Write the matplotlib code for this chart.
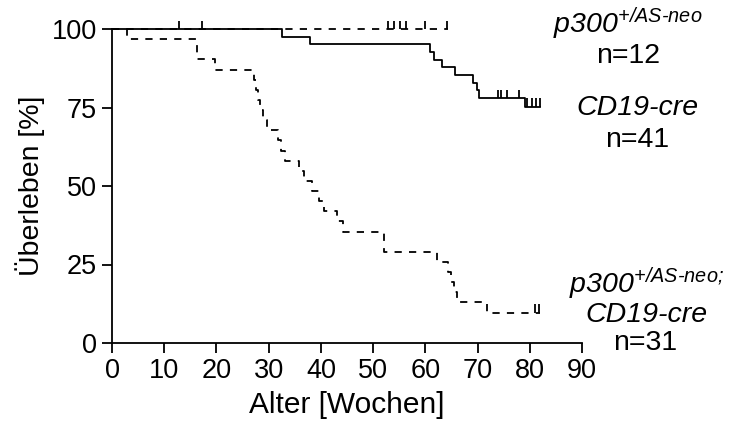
import matplotlib
matplotlib.use("Agg")
import matplotlib.pyplot as plt

plt.rcParams['font.family'] = ['Liberation Sans', 'DejaVu Sans']
plt.rcParams['mathtext.fontset'] = 'custom'
plt.rcParams['mathtext.rm'] = 'Liberation Sans:italic'
plt.rcParams['mathtext.it'] = 'Liberation Sans:italic'

# p300+/AS-neo, n=12 (no deaths)
wt_times = [0, 64.4]
wt_surv = [100, 100]
wt_cens = [52.9, 54.0, 55.2, 56.3, 60.0, 64.1]

# CD19-cre, n=41
cre_times = [0, 32.5, 37.9, 60.9, 61.7, 63.2, 65.7, 69.2, 69.8, 70.3, 79.1, 82.0]
cre_surv = [100, 97.6, 95.1, 92.7, 90.2, 87.8, 85.4, 82.9, 80.5, 78.0, 75.3, 75.3]
cre_cens_t = [12.9, 17.3, 74.0, 74.4, 75.7, 77.9, 79.4, 80.4, 81.2, 82.0]
cre_cens_s = [100, 100, 78.0, 78.0, 78.0, 78.0, 75.3, 75.3, 75.3, 75.3]

# p300+/AS-neo;CD19-cre, n=31
dko_times = [0, 2.8, 16.2, 19.7, 27.2, 27.6, 28.0, 28.4, 29.0, 29.6, 31.8, 32.4,
             33.2, 35.8, 36.8, 38.3, 39.6, 40.6, 43.0, 44.2, 52.0, 62.3, 64.4,
             65.0, 65.5, 66.0, 71.9, 82.0]
dko_surv = [100, 96.8, 90.3, 87.1, 83.9, 80.6, 77.4, 74.2, 71.0, 67.7, 64.5, 61.3,
            58.1, 54.8, 51.6, 48.4, 45.2, 41.9, 38.7, 35.5, 29.0, 25.8, 22.6,
            19.4, 16.1, 12.9, 9.7, 9.7]
dko_cens = [81.0, 81.7]

W, H = 732, 425
fig = plt.figure(figsize=(W / 100, H / 100), dpi=100)
ax = fig.add_axes([112 / W, 1 - 343 / H, 470 / W, 314 / H])

lw = 1.3
tick_h = 2.6
dash = (0, (4, 4))

ax.step(cre_times, cre_surv, where='post', color='black', lw=lw, clip_on=False)
ax.vlines(cre_cens_t, cre_cens_s, [s + tick_h for s in cre_cens_s],
          color='black', lw=lw, clip_on=False)

ax.step(wt_times, wt_surv, where='post', color='black', lw=lw, linestyle=dash, clip_on=False)
ax.vlines(wt_cens, 100, 100 + tick_h, color='black', lw=lw, clip_on=False)

ax.step(dko_times, dko_surv, where='post', color='black', lw=lw, linestyle=dash, clip_on=False)
ax.vlines(dko_cens, 9.7, 9.7 + tick_h, color='black', lw=lw, clip_on=False)

ax.set_xlim(0, 90)
ax.set_ylim(0, 100)
ax.set_xticks(range(0, 91, 10))
ax.set_yticks([0, 25, 50, 75, 100])
for s in ['top', 'right']:
    ax.spines[s].set_visible(False)
for s in ['left', 'bottom']:
    ax.spines[s].set_linewidth(1.3)
ax.tick_params(direction='out', length=7, width=1.3, labelsize=19.5, pad=4)
ax.patch.set_alpha(0)

ax.set_xlabel('Alter [Wochen]', fontsize=21.5, labelpad=5)
ax.set_ylabel('Überleben [%]', fontsize=20.5, labelpad=5)

fs = 20.5
sup = r'$p300^{+/AS\text{-}neo}$'
fig.text(628 / W, 1 - 33 / H, sup, fontsize=fs, ha='center', va='baseline')
fig.text(628 / W, 1 - 63 / H, 'n=12', fontsize=fs, ha='center', va='baseline')
fig.text(637 / W, 1 - 115 / H, 'CD19-cre', fontsize=fs, style='italic', ha='center', va='baseline')
fig.text(637 / W, 1 - 147 / H, 'n=41', fontsize=fs, ha='center', va='baseline')

sup2 = r'$p300^{+/AS\text{-}neo;}$'
fig.text(646 / W, 1 - 293 / H, sup2, fontsize=fs, ha='center', va='baseline')
fig.text(646 / W, 1 - 322 / H, 'CD19-cre', fontsize=fs, style='italic', ha='center', va='baseline')
fig.text(645 / W, 1 - 350 / H, 'n=31', fontsize=fs, ha='center', va='baseline')

fig.savefig('out.png', dpi=100)
